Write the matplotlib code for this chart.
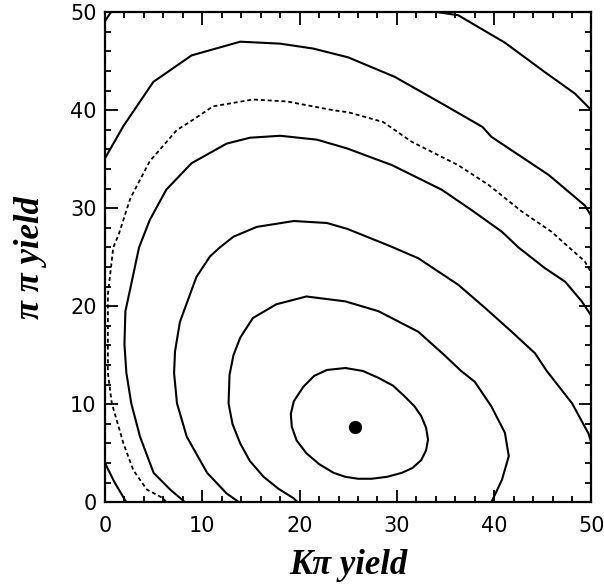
import matplotlib.pyplot as plt
import numpy as np

# contour lines (K-pi yield, pi-pi yield)
c0_x = [24.7, 26.5, 28.1, 29.6, 30.8, 31.8, 32.5, 33.0, 33.2, 33.0, 32.5, 31.6, 30.5, 29.0, 27.4,
        26.0, 24.7, 23.5, 22.0, 20.7, 19.7, 19.2, 19.1, 19.4, 20.4, 21.5, 22.8, 24.7]
c0_y = [13.7, 13.4, 12.7, 11.9, 10.8, 9.8, 8.8, 7.6, 6.4, 5.3, 4.3, 3.5, 3.0, 2.6, 2.4,
        2.4, 2.6, 3.0, 3.9, 5.0, 6.3, 7.7, 9.0, 10.3, 11.8, 12.9, 13.5, 13.7]

c1_x = [19.8, 19.4, 17.8, 16.3, 14.9, 13.9, 13.1, 12.7, 12.8, 13.2, 13.9, 15.2, 17.6, 20.7, 24.7,
        28.1, 32.2, 34.9, 36.6, 38.0, 39.7, 41.1, 41.5, 40.8, 39.9, 39.7]
c1_y = [0.0, 0.4, 1.4, 2.6, 4.2, 6.0, 8.0, 10.1, 13.0, 15.0, 16.8, 18.8, 20.2, 21.0, 20.5,
        19.5, 17.4, 15.0, 13.4, 12.3, 9.8, 7.1, 4.7, 2.3, 0.4, 0.0]

c2_x = [13.8, 13.5, 12.5, 10.5, 8.4, 7.4, 7.1, 7.2, 7.7, 9.4, 10.8, 11.8, 13.2, 15.6, 19.4, 22.8,
        24.9, 29.4, 32.2, 36.3, 39.1, 41.8, 44.2, 45.4, 48.0, 49.7, 50.0]
c2_y = [0.0, 0.2, 0.9, 3.0, 6.7, 10.1, 13.2, 15.4, 18.4, 23.0, 25.1, 26.0, 27.1, 28.1, 28.7, 28.5,
        27.9, 26.1, 24.9, 22.2, 19.8, 17.4, 15.2, 13.4, 10.1, 7.0, 6.0]

c3_x = [8.2, 8.0, 6.7, 5.0, 3.6, 2.7, 2.2, 2.0, 2.1, 2.6, 3.5, 4.6, 6.3, 8.9, 12.5, 14.9, 18.0,
        21.8, 24.9, 29.5, 34.6, 37.7, 40.8, 42.5, 45.2, 47.3, 49.0, 50.0]
c3_y = [0.0, 0.2, 1.3, 3.0, 6.7, 10.1, 13.2, 16.1, 19.5, 21.8, 26.0, 28.8, 31.9, 34.6, 36.6, 37.2, 37.4,
        37.0, 36.1, 34.4, 31.9, 29.8, 27.6, 26.0, 23.9, 22.5, 20.5, 19.0]

# dashed contour
cd_x = [6.3, 6.0, 4.3, 2.9, 1.9, 0.7, 0.3, 0.3, 0.85, 1.4, 2.6, 4.6, 7.4, 8.7, 11.1, 15.2, 18.7,
        23.5, 25.0, 28.6, 31.5, 36.3, 39.4, 42.8, 45.9, 47.7, 49.3, 50.0]
cd_y = [0.0, 0.4, 1.3, 3.3, 6.0, 10.1, 13.2, 21.2, 26.0, 27.3, 31.0, 34.8, 38.0, 38.8, 40.4, 41.1, 40.9,
        40.0, 39.8, 38.8, 36.8, 34.4, 32.4, 29.7, 27.6, 26.0, 24.6, 23.4]

c4_x = [0.0, 1.9, 4.97, 8.9, 13.9, 18.0, 21.4, 25.0, 29.8, 34.6, 38.8, 39.7, 45.6, 49.3, 50.0]
c4_y = [35.1, 38.4, 42.9, 45.6, 47.0, 46.8, 46.3, 45.4, 43.4, 40.7, 38.3, 37.3, 33.4, 30.3, 29.2]
c4b_x = [0.0, 1.0, 2.2]
c4b_y = [4.0, 2.0, 0.0]

c5_x = [34.3, 36.3, 41.1, 45.2, 48.3, 50.0]
c5_y = [50.0, 49.7, 46.9, 43.9, 41.7, 40.0]
c5b_x = [0.0, 0.6]
c5b_y = [49.1, 50.0]

best_x = [25.7]
best_y = [7.7]

ticks = [0, 10, 20, 30, 40, 50]

fig = plt.figure(figsize=(6.04, 5.88), dpi=100)
ax = fig.add_axes([0.1738, 0.1458, 0.8055, 0.8333])

solid = [(c0_x, c0_y), (c1_x, c1_y), (c2_x, c2_y), (c3_x, c3_y),
         (c4_x, c4_y), (c4b_x, c4b_y), (c5_x, c5_y), (c5b_x, c5b_y)]
for xs, ys in solid:
    ax.plot(xs, ys, color='black', lw=1.5, solid_joinstyle='round')
ax.plot(cd_x, cd_y, color='black', lw=1.3, linestyle=(0, (2.2, 1.6)))
ax.plot(best_x, best_y, 'o', color='black', markersize=8.5)

ax.set_xlim(0, 50)
ax.set_ylim(0, 50)
ax.set_xticks(ticks)
ax.set_yticks(ticks)
ax.set_xticks(np.arange(0, 51, 2), minor=True)
ax.set_yticks(np.arange(0, 51, 2), minor=True)
ax.tick_params(which='both', direction='in', top=True, right=True, width=1.3,
               labelsize=15, pad=6)
ax.tick_params(axis='x', which='major', pad=10)
ax.tick_params(which='major', length=9)
ax.tick_params(which='minor', length=4.5)
for s in ax.spines.values():
    s.set_linewidth(1.6)

lab = dict(family='Liberation Serif', style='italic', weight='bold', fontsize=25)
ax.set_xlabel('K\u03c0 yield', **lab)
ax.xaxis.set_label_coords(0.5, -0.095)
ax.set_ylabel('\u03c0 \u03c0 yield', **lab)
ax.yaxis.set_label_coords(-0.12, 0.5)

fig.savefig('out.png', dpi=100)
